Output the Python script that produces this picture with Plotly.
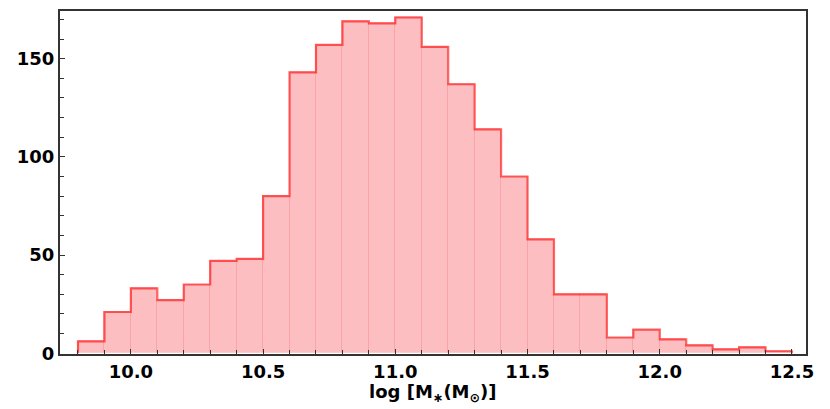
import plotly.graph_objects as go

# bin edges of the stellar-mass histogram (width 0.1 dex)
bin_edges = [9.8, 9.9, 10.0, 10.1, 10.2, 10.3, 10.4, 10.5, 10.6, 10.7, 10.8, 10.9,
             11.0, 11.1, 11.2, 11.3, 11.4, 11.5, 11.6, 11.7, 11.8, 11.9, 12.0,
             12.1, 12.2, 12.3, 12.4, 12.5]
counts = [6, 21, 33, 27, 35, 47, 48, 80, 143, 157, 169, 168, 171, 156, 137,
          114, 90, 58, 30, 30, 8, 12, 7, 4, 2, 3, 1]

x_ticks = [10.0, 10.5, 11.0, 11.5, 12.0, 12.5]
x_ticklabels = ["10.0", "10.5", "11.0", "11.5", "12.0", "12.5"]
y_ticks = [0, 50, 100, 150]
x_title = "log [M<sub>∗</sub>(M<sub>⊙</sub>)]"

centers = [(a + b) / 2 for a, b in zip(bin_edges[:-1], bin_edges[1:])]
widths = [b - a for a, b in zip(bin_edges[:-1], bin_edges[1:])]

fig = go.Figure()
fig.add_trace(go.Bar(
    x=centers, y=counts, width=widths,
    marker=dict(color="rgba(245,40,45,0.30)",
                line=dict(color="rgba(245,40,45,0.10)", width=1)),
    showlegend=False, hoverinfo="skip"))
# outline as a step line
fig.add_trace(go.Scatter(
    x=[bin_edges[0]] + bin_edges, y=[0] + counts + [0],
    mode="lines", line=dict(color="rgba(255,0,0,0.6)", width=2.2, shape="hv"),
    showlegend=False, hoverinfo="skip"))

font = dict(family="DejaVu Sans", size=18, color="black", weight="bold")
axis = dict(showline=True, linecolor="#333", linewidth=2, mirror=True,
            ticks="inside", tickcolor="#333", ticklen=5, tickwidth=1.2,
            showgrid=False, zeroline=False, tickfont=font)

fig.update_layout(
    width=830, height=409,
    margin=dict(l=60, r=24, t=9, b=55),
    paper_bgcolor="white", plot_bgcolor="white",
    bargap=0,
    xaxis=dict(range=[9.732, 12.553], tickvals=x_ticks, ticktext=x_ticklabels,
               minor=dict(dtick=0.1, tick0=9.8, ticks="inside", ticklen=4,
                          tickcolor="#333", tickwidth=1),
               **axis),
    yaxis=dict(range=[-0.4, 174.3], tickvals=y_ticks,
               minor=dict(dtick=10, ticks="inside", ticklen=4,
                          tickcolor="#333", tickwidth=1),
               **axis),
)
fig.add_annotation(text=x_title, xref="paper", yref="paper", x=0.5, y=0,
                   yanchor="top", yshift=-25, showarrow=False, font=font)

# drop the default 8px body margin so the figure fills the window exactly
fig.write_html("out.html", config={"displayModeBar": False},
               post_script="document.body.style.margin='0';"
                           "document.body.style.overflow='hidden';")
